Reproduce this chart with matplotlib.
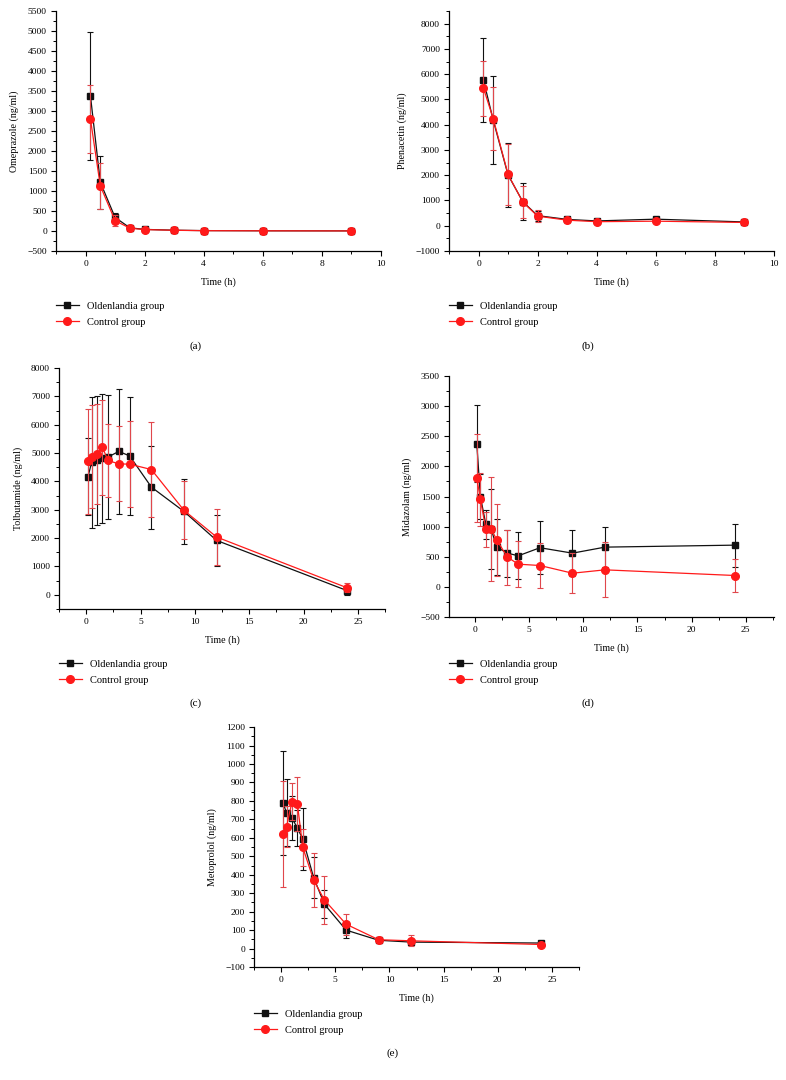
import matplotlib
matplotlib.use("Agg")
import matplotlib.pyplot as plt
from matplotlib.lines import Line2D
from matplotlib.ticker import MultipleLocator, AutoMinorLocator

plt.rcParams["font.family"] = ["Liberation Serif", "DejaVu Serif"]

t_short = [0.167, 0.5, 1, 1.5, 2, 3, 4, 6, 9]
t_long = [0.167, 0.5, 1, 1.5, 2, 3, 4, 6, 9, 12, 24]

# (a) Omeprazole
ome_old = [3380, 1220, 340, 80, 40, 20, 10, 5, 3]
ome_old_sd = [1600, 660, 120, 30, 15, 8, 5, 3, 2]
ome_ctl = [2800, 1130, 260, 70, 35, 18, 8, 5, 2]
ome_ctl_sd = [860, 570, 130, 30, 15, 8, 5, 3, 2]

# (b) Phenacetin
phe_old = [5770, 4170, 2010, 950, 400, 250, 190, 260, 150]
phe_old_sd = [1650, 1740, 1280, 740, 200, 100, 50, 50, 40]
phe_ctl = [5450, 4230, 2030, 935, 380, 220, 160, 180, 130]
phe_ctl_sd = [1090, 1250, 1210, 630, 230, 100, 50, 50, 40]

# (c) Tolbutamide
tol_old = [4170, 4670, 4740, 4820, 4860, 5060, 4900, 3800, 2940, 1920, 150]
tol_old_sd = [1370, 2320, 2290, 2280, 2200, 2200, 2070, 1460, 1130, 900, 150]
tol_ctl = [4710, 4880, 4970, 5200, 4740, 4620, 4610, 4420, 2980, 2040, 250]
tol_ctl_sd = [1850, 1820, 1760, 1680, 1300, 1320, 1520, 1680, 1020, 1000, 150]

# (d) Midazolam
mid_old = [2380, 1500, 1040, 960, 660, 560, 516, 650, 560, 660, 693]
mid_old_sd = [640, 380, 240, 665, 466, 390, 393, 443, 383, 327, 355]
mid_ctl = [1813, 1453, 960, 965, 782, 493, 377, 355, 227, 283, 189]
mid_ctl_sd = [730, 440, 290, 860, 600, 455, 377, 380, 330, 455, 280]

# (e) Metoprolol
met_old = [788, 737, 709, 652, 594, 385, 240, 100, 45, 35, 30]
met_old_sd = [281, 182, 120, 97, 170, 112, 77, 45, 10, 10, 8]
met_ctl = [620, 660, 795, 784, 548, 371, 263, 132, 48, 42, 22]
met_ctl_sd = [288, 110, 100, 146, 102, 145, 130, 57, 15, 30, 10]

BLACK = "#111111"
RED = "#ff1a1a"
RED_ERR = "#e0474c"
W, H = 786, 1080

fig = plt.figure(figsize=(7.86, 10.8), dpi=100)

panels = [
    # rect, x, old, old_sd, ctl, ctl_sd, ylabel, xlim, ylim, xmaj, ymaj, tag, tagpos, legend (px)
    ([0.0712, 0.7676, 0.4135, 0.2222], t_short, ome_old, ome_old_sd, ome_ctl, ome_ctl_sd,
     "Omeprazole (ng/ml)", (-1, 10), (-500, 5500), 2, 500, "(a)", (0.249, 0.679), (56, 314)),
    ([0.5712, 0.7676, 0.4135, 0.2222], t_short, phe_old, phe_old_sd, phe_ctl, phe_ctl_sd,
     "Phenacetin (ng/ml)", (-1, 10), (-1000, 8500), 2, 1000, "(b)", (0.748, 0.679), (449, 314)),
    ([0.0751, 0.4361, 0.4148, 0.2231], t_long, tol_old, tol_old_sd, tol_ctl, tol_ctl_sd,
     "Tolbutamide (ng/ml)", (-2.5, 27.5), (-500, 8000), 5, 1000, "(c)", (0.249, 0.349), (59, 672)),
    ([0.5712, 0.4287, 0.4135, 0.2231], t_long, mid_old, mid_old_sd, mid_ctl, mid_ctl_sd,
     "Midazolam (ng/ml)", (-2.4, 27.6), (-500, 3500), 5, 500, "(d)", (0.748, 0.349), (449, 672)),
    ([0.3232, 0.1046, 0.4135, 0.2222], t_long, met_old, met_old_sd, met_ctl, met_ctl_sd,
     "Metoprolol (ng/ml)", (-2.5, 27.5), (-100, 1200), 5, 100, "(e)", (0.499, 0.025), (254, 1022)),
]

handles = [
    Line2D([], [], color=BLACK, marker="s", markersize=4.5, linewidth=0.9, label="Oldenlandia group"),
    Line2D([], [], color=RED, marker="o", markersize=5.5, linewidth=0.9, label="Control group"),
]

for rect, x, old, old_sd, ctl, ctl_sd, ylabel, xlim, ylim, xmaj, ymaj, tag, tagpos, legpos in panels:
    ax = fig.add_axes(rect)
    ax.errorbar(x, old, yerr=old_sd, color=BLACK, ecolor=BLACK, marker="s", markersize=4.5,
                linewidth=0.9, elinewidth=0.8, capsize=2, capthick=0.8, zorder=2)
    ax.errorbar(x, ctl, yerr=ctl_sd, color=RED, ecolor=RED_ERR, marker="o", markersize=5.5,
                linewidth=0.9, elinewidth=0.8, capsize=2, capthick=0.8, zorder=3)
    ax.set_xlim(*xlim)
    ax.set_ylim(*ylim)
    ax.xaxis.set_major_locator(MultipleLocator(xmaj))
    ax.yaxis.set_major_locator(MultipleLocator(ymaj))
    ax.xaxis.set_minor_locator(AutoMinorLocator(2))
    ax.yaxis.set_minor_locator(AutoMinorLocator(2))
    ax.spines["top"].set_visible(False)
    ax.spines["right"].set_visible(False)
    for side in ("left", "bottom"):
        ax.spines[side].set_linewidth(0.9)
    ax.tick_params(which="major", direction="out", length=3.5, width=0.8, labelsize=6.8, pad=3)
    ax.tick_params(which="minor", direction="out", length=2, width=0.7)
    ax.set_xlabel("Time (h)", fontsize=7.2, labelpad=6.5)
    ax.set_ylabel(ylabel, fontsize=7.2, labelpad=6)
    ax.legend(handles=handles, loc="center left",
              bbox_to_anchor=(legpos[0] / W, 1 - legpos[1] / H), bbox_transform=fig.transFigure,
              frameon=False, fontsize=7.5, handlelength=2.2, labelspacing=0.65,
              borderaxespad=0, borderpad=0)
    fig.text(tagpos[0], tagpos[1], tag, ha="center", va="center", fontsize=8)

fig.savefig("out.png", dpi=100)
